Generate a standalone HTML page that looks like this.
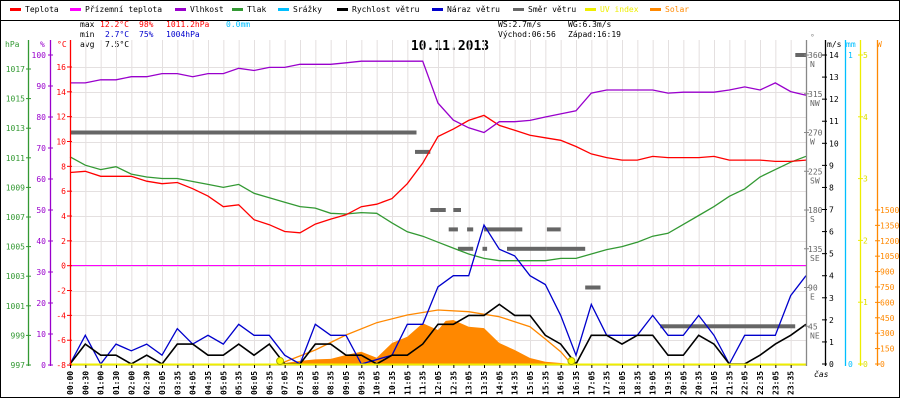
<!DOCTYPE html>
<html><head><meta charset="utf-8"><style>
html,body{margin:0;padding:0;background:#fff}
svg{display:block;font-family:"DejaVu Sans Mono","Liberation Mono",monospace;font-size:8px}
</style></head><body>
<svg id="c" width="900" height="400" viewBox="0 0 900 400">
<rect x="0.5" y="0.5" width="899" height="397" fill="#fff" stroke="#000"/>
<line x1="0" y1="20.5" x2="900" y2="20.5" stroke="#000"/>
<g id="legend"></g>
<g>
<text x="80" y="27" fill="#000">max</text><text x="100" y="27" fill="#f00">12.2°C</text><text x="139" y="27" fill="#f00">98%</text><text x="166" y="27" fill="#f00">1011.2hPa</text><text x="226" y="27" fill="#00bfff">0.0mm</text>
<text x="80" y="37" fill="#000">min</text><text x="105" y="37" fill="#00c">2.7°C</text><text x="139" y="37" fill="#00c">75%</text><text x="166" y="37" fill="#00c">1004hPa</text>
<text x="80" y="47" fill="#000">avg</text><text x="105" y="47" fill="#000">7.5°C</text>
<text x="498" y="27" fill="#000">WS:2.7m/s</text><text x="568" y="27" fill="#000">WG:6.3m/s</text>
<text x="498" y="37" fill="#000">Východ:06:56</text><text x="568" y="37" fill="#000">Západ:16:19</text>
</g>
<text x="450" y="50" text-anchor="middle" font-weight="bold" font-size="13">10.11.2013</text>
<g id="grid"></g>
<g id="marks"></g>
<g id="axes"></g>
</svg>
<script>
const slotLabels=["00:00","00:30","01:00","01:30","02:00","02:30","03:05","03:35","04:05","04:35","05:05","05:35","06:05","06:35","07:05","07:35","08:05","08:35","09:05","09:35","10:05","10:35","11:05","11:35","12:05","12:35","13:05","13:35","14:05","14:35","15:05","15:35","16:05","16:35","17:05","17:35","18:05","18:35","19:05","19:35","20:05","20:35","21:05","21:35","22:05","22:35","23:05","23:35"];
const humidity=[91,91,92,92,93,93,94,94,93,94,94,95.7,95,96,96,97,97,97,97.5,98,98,98,98,98,84.5,79,76.5,75,78.5,78.5,78.9,80,81,82,87.7,88.7,88.7,88.7,88.7,87.7,88,88,88,88.7,89.7,88.7,91,88.2,87];
const temperature=[7.5,7.6,7.2,7.2,7.2,6.8,6.6,6.7,6.2,5.6,4.75,4.9,3.7,3.3,2.75,2.65,3.35,3.75,4.1,4.75,4.95,5.4,6.6,8.25,10.4,11,11.7,12.1,11.3,10.9,10.5,10.3,10.1,9.6,9,8.7,8.5,8.5,8.8,8.7,8.7,8.7,8.8,8.5,8.5,8.5,8.4,8.4,8.5];
const pressure=[1011.07,1010.5,1010.2,1010.4,1009.9,1009.7,1009.6,1009.6,1009.4,1009.2,1009.0,1009.2,1008.6,1008.3,1008.0,1007.7,1007.6,1007.25,1007.2,1007.3,1007.25,1006.6,1006.0,1005.7,1005.3,1004.9,1004.5,1004.2,1004.05,1004.05,1004.05,1004.05,1004.2,1004.2,1004.5,1004.8,1005.0,1005.3,1005.7,1005.9,1006.5,1007.1,1007.7,1008.4,1008.9,1009.7,1010.2,1010.7,1011.1];
const windSpeed=[0,0.9,0.4,0.4,0,0.4,0,0.9,0.9,0.4,0.4,0.9,0.4,0.9,0,0,0.9,0.9,0.4,0.4,0,0.4,0.4,0.9,1.8,1.8,2.2,2.2,2.7,2.2,2.2,1.3,0.9,0,1.3,1.3,0.9,1.3,1.3,0.4,0.4,1.3,0.9,0,0,0.4,0.9,1.3,1.8];
const windGust=[0,1.3,0,0.9,0.6,0.9,0.4,1.6,0.9,1.3,0.9,1.8,1.3,1.3,0.4,0,1.8,1.3,1.3,0,0.2,0.4,1.8,1.8,3.5,4.0,4.0,6.3,5.2,4.9,4.0,3.6,2.2,0.4,2.7,1.3,1.3,1.3,2.2,1.3,1.3,2.2,1.3,0,1.3,1.3,1.3,3.1,4.0];
const solarSlots=[13.7,14,15,16,17,18,19,20,21,22,23,24,24.5,25,26,27,28,29,30,31,32,32.7];
const solarValues=[0,10,30,45,50,88,120,60,204,266,396,331,420,428,363,350,204,136,58,22,10,0];
const solarTheorySlots=[13.7,14,16,18,20,22,24,26,28,30,31,32,32.7];
const solarTheory=[0,20,136,282,402,477,526,509,461,363,243,120,0];
const dirStart=[0,22.5,23.5,23.7,25,24.7,25.9,27,31.1,25.3,26.9,28.5,31.1,33.6,38.5,47.3];
const dirEnd=[22.6,23.5,24.5,24.5,25.5,25.3,26.3,29.5,32,26.3,27.2,31.1,33.6,34.6,47.3,48];
const dirDeg=[270,247.5,180,180,180,157.5,157.5,157.5,157.5,135,135,135,135,90,45,360];

const NS="http://www.w3.org/2000/svg";
const svg=document.getElementById('c');
function mk(tag,attrs,parent,txt){const e=document.createElementNS(NS,tag);for(const k in attrs)e.setAttribute(k,attrs[k]);if(txt!==undefined)e.textContent=txt;(parent||svg).appendChild(e);return e;}
const xs=s=>70+s*(736/48);
const yT=t=>265.7-12.42*t, yH=h=>365-3.1*h, yP=p=>365-14.8*(p-997), yV=v=>364-22.07*v, yD=d=>365-0.861*d, yW=w=>364-0.1027*w;
const grid=document.getElementById('grid'), marks=document.getElementById('marks'), axes=document.getElementById('axes'), legend=document.getElementById('legend');

const legItems=[["Teplota","#f00",10],["Přízemní teplota","#f0f",70],["Vlhkost","#90c",175],["Tlak","#393",232],["Srážky","#00bfff",278],["Rychlost větru","#000",337],["Náraz větru","#00c",432],["Směr větru","#666",513],["UV index","#ee0",585],["Solar","#f80",650]];
legItems.forEach(it=>{
  const g=mk('g',{},legend);
  
  
  mk('rect',{x:it[2],y:8,width:11,height:3,fill:it[1]},g);
  mk('text',{x:it[2]+15,y:12,fill:it[1]==="#ee0"?"#ee0":(it[1]==="#f80"?"#f80":"#000")},g,it[0]);
});

for(let i=0;i<48;i++){mk('line',{x1:xs(i)+.5,y1:40,x2:xs(i)+.5,y2:365,stroke:"#e4e0e0"},grid);}
for(let t=-8;t<=16;t+=2){mk('line',{x1:70,y1:Math.round(yT(t))+.5,x2:806,y2:Math.round(yT(t))+.5,stroke:"#e4e0e0"},grid);}

let d="M"+xs(solarSlots[0])+","+yW(0);
solarSlots.forEach((s,i)=>{d+=" L"+xs(s).toFixed(1)+","+yW(solarValues[i]).toFixed(1);});
d+=" L"+xs(solarSlots[solarSlots.length-1])+","+yW(0)+"Z";
const sa=mk('path',{d:d,fill:"#f80"},marks);


function line(xsArr,vals,yf,color,name,w){
  const pts=vals.map((v,i)=>xs(xsArr?xsArr[i]:i).toFixed(1)+","+yf(v).toFixed(1)).join(" ");
  const p=mk('polyline',{points:pts,fill:"none",stroke:color,"stroke-width":w||1.3},marks);
  
  
}
line(solarTheorySlots,solarTheory,yW,"#f80","solar-theory-line",1.3);
const mz=mk('line',{x1:70,y1:265.5,x2:806,y2:265.5,stroke:"#f0f"},marks);


dirDeg.forEach((dg,i)=>{
  const r=mk('rect',{x:xs(dirStart[i]).toFixed(1),y:(yD(dg)-2).toFixed(1),width:(xs(dirEnd[i])-xs(dirStart[i])).toFixed(1),height:4,fill:"#666"},marks);
  
  
});
line(null,pressure,yP,"#393","pressure-line");
line(null,temperature,yT,"#f00","temperature-line");
line(null,humidity,yH,"#90c","humidity-line");
line(null,windGust,yV,"#00c","wind-gust-line");
line(null,windSpeed,yV,"#000","wind-speed-line",1.6);
const uv=mk('line',{x1:70,y1:364.5,x2:806,y2:364.5,stroke:"#ee0","stroke-width":2},marks);


[13.7,32.7].forEach(s=>{const c=mk('circle',{cx:xs(s),cy:361,r:3.5,fill:"#ff0",stroke:"#aa0"},marks);

});

function vaxis(x,color,y1,y2,name){const l=mk('line',{x1:x+.5,y1:y1,x2:x+.5,y2:y2,stroke:color,"stroke-width":1.3},axes);}
vaxis(28,"#393",40,366,"pressure-axis");vaxis(50,"#90c",40,366,"humidity-axis");vaxis(70,"#f00",40,366,"temperature-axis");
mk('text',{x:5,y:47,fill:"#393"},axes,"hPa");mk('text',{x:40,y:47,fill:"#90c"},axes,"%");mk('text',{x:57,y:47,fill:"#f00"},axes,"°C");
for(let p=997;p<=1017;p+=2){mk('line',{x1:26,y1:yP(p),x2:31,y2:yP(p),stroke:"#393"},axes);mk('text',{x:25,y:yP(p)+3,fill:"#393","text-anchor":"end"},axes,p);}
for(let h=0;h<=100;h+=10){mk('line',{x1:48,y1:yH(h),x2:53,y2:yH(h),stroke:"#90c"},axes);mk('text',{x:46,y:yH(h)+3,fill:"#90c","text-anchor":"end"},axes,h);}
for(let t=-8;t<=16;t+=2){mk('line',{x1:67,y1:yT(t),x2:72,y2:yT(t),stroke:"#f00"},axes);mk('text',{x:66,y:yT(t)+3,fill:"#f00","text-anchor":"end"},axes,t);}
vaxis(806,"#888",40,366,"direction-axis");
mk('text',{x:810,y:40,fill:"#888"},axes,"°");
const dirNames=["","NE","E","SE","S","SW","W","NW","N"];
for(let k=1;k<=8;k++){const dg=k*45;mk('line',{x1:804,y1:yD(dg),x2:809,y2:yD(dg),stroke:"#888"},axes);mk('text',{x:808,y:yD(dg)+3,fill:"#666"},axes,dg);mk('text',{x:810,y:yD(dg)+12,fill:"#666"},axes,dirNames[k]);}
vaxis(825,"#000",40,366,"wind-speed-axis");mk('text',{x:827,y:47,fill:"#000"},axes,"m/s");
for(let v=0;v<=14;v++){mk('line',{x1:822,y1:yV(v),x2:827,y2:yV(v),stroke:"#000"},axes);mk('text',{x:829,y:yV(v)+3,fill:"#000"},axes,v);}
vaxis(845,"#00bfff",40,366,"rain-axis");mk('text',{x:846,y:47,fill:"#00bfff"},axes,"mm");
mk('text',{x:848,y:58,fill:"#00bfff"},axes,"1");mk('text',{x:848,y:367,fill:"#00bfff"},axes,"0");
vaxis(860,"#ee0",40,366,"uv-axis");
for(let u=0;u<=5;u++){mk('line',{x1:858,y1:364-61.8*u,x2:863,y2:364-61.8*u,stroke:"#ee0"},axes);mk('text',{x:863,y:367-61.8*u,fill:"#dd0"},axes,u);}
vaxis(877,"#f80",40,366,"solar-axis");mk('text',{x:877,y:47,fill:"#f80"},axes,"W");
for(let w=0;w<=1500;w+=150){mk('line',{x1:875,y1:yW(w),x2:880,y2:yW(w),stroke:"#f80"},axes);mk('text',{x:880,y:yW(w)+3,fill:"#f80"},axes,w);}
mk('text',{x:814,y:377,fill:"#000","font-style":"italic"},axes,"čas");
slotLabels.forEach((lb,i)=>{const x=xs(i);mk('line',{x1:x+.5,y1:365,x2:x+.5,y2:368,stroke:"#000"},axes);
const t=mk('text',{x:0,y:0,transform:"translate("+(x+3)+",395) rotate(-90)",fill:"#000","font-weight":"bold"},axes,lb);

});
</script>
</body></html>
